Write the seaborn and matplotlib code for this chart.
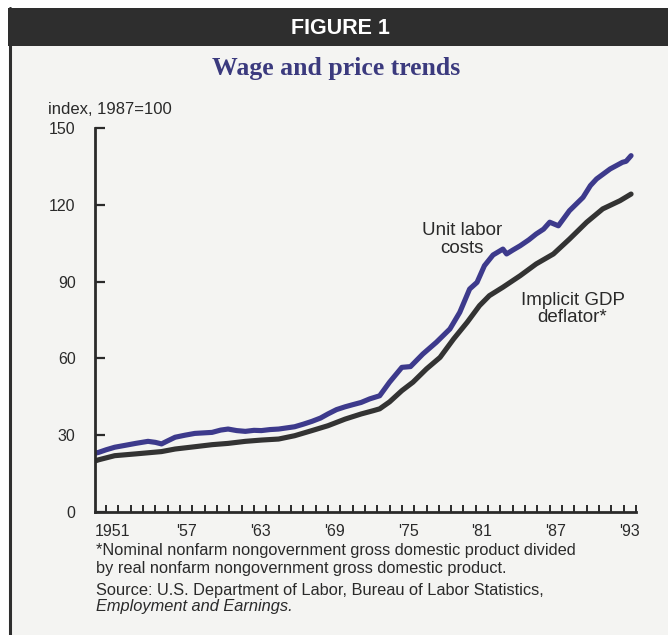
import matplotlib
matplotlib.use("Agg")
import matplotlib.pyplot as plt
from matplotlib.patches import Rectangle
from matplotlib.lines import Line2D
import seaborn as sns
import pandas as pd
import numpy as np

# ---- data ----
ulc_years = [1950.15, 1950.4, 1951.0, 1951.7, 1952.5, 1953.4, 1954.4, 1955.0, 1955.5, 1956.0,
             1956.6, 1957.4, 1958.2, 1959.6, 1960.3, 1960.9, 1961.6, 1962.3, 1963.0, 1963.6,
             1964.3, 1965.0, 1966.3, 1967.0, 1967.7, 1968.4, 1969.0, 1969.7, 1970.4, 1971.0,
             1971.7, 1972.4, 1973.2, 1974.0, 1975.0, 1975.7, 1976.7, 1977.8, 1978.9, 1979.7,
             1980.5, 1981.1, 1981.7, 1982.4, 1983.2, 1983.5, 1984.0, 1984.6, 1985.3, 1985.9,
             1986.5, 1987.0, 1987.7, 1988.6, 1989.7, 1990.3, 1990.8, 1991.9, 1992.9, 1993.2,
             1993.6]
unit_labor_costs = [23.0, 23.3, 24.3, 25.3, 26.0, 26.8, 27.6, 27.2, 26.6, 27.8,
                    29.2, 30.0, 30.7, 31.1, 32.0, 32.4, 31.8, 31.5, 31.9, 31.8,
                    32.2, 32.4, 33.3, 34.3, 35.4, 36.7, 38.3, 40.0, 41.1, 41.9,
                    42.8, 44.2, 45.4, 50.7, 56.5, 56.8, 61.7, 66.3, 71.5, 78.0,
                    87.1, 89.7, 96.2, 100.4, 102.7, 100.8, 102.3, 104.0, 106.3, 108.6,
                    110.5, 113.2, 111.8, 117.7, 122.9, 127.5, 130.1, 134.0, 136.6, 137.0,
                    139.2]
gdp_years = [1950.15, 1950.4, 1951.7, 1953.4, 1955.5, 1956.6, 1958.2, 1959.6, 1960.9, 1962.3,
             1963.6, 1965.0, 1966.3, 1967.7, 1969.0, 1970.4, 1971.7, 1972.7, 1973.2, 1974.0,
             1975.0, 1975.9, 1977.0, 1978.1, 1979.2, 1980.3, 1981.3, 1982.1, 1983.2, 1984.6,
             1985.9, 1987.3, 1988.6, 1990.0, 1991.3, 1992.7, 1993.6]
gdp_deflator = [20.0, 20.4, 22.0, 22.7, 23.6, 24.6, 25.5, 26.3, 26.8, 27.6,
                28.1, 28.5, 29.8, 31.8, 33.7, 36.3, 38.3, 39.6, 40.3, 43.0,
                47.4, 50.7, 55.9, 60.4, 67.6, 74.1, 80.6, 84.5, 87.8, 92.3,
                96.9, 100.8, 106.6, 113.2, 118.4, 121.6, 124.2]
series_names = ["Unit labor costs", "Implicit GDP deflator"]
x_tick_years = [1951, 1957, 1963, 1969, 1975, 1981, 1987, 1993]
x_tick_labels = ["1951", "'57", "'63", "'69", "'75", "'81", "'87", "'93"]
y_ticks = [0, 30, 60, 90, 120, 150]

df = pd.concat([
    pd.DataFrame({"year": ulc_years, "value": unit_labor_costs, "series": series_names[0]}),
    pd.DataFrame({"year": gdp_years, "value": gdp_deflator, "series": series_names[1]}),
])

sns.set_theme(style="white")
plt.rcParams["font.family"] = ["Liberation Sans", "DejaVu Sans"]

W, H = 668, 635
fig = plt.figure(figsize=(W / 100, H / 100), dpi=100)
fig.patch.set_facecolor("white")

def fx(px):
    return px / W

def fy(py):
    return 1 - py / H

# panel background, header bar, left border
fig.patches.append(Rectangle((fx(9), 0), fx(W - 9), fy(46), transform=fig.transFigure,
                             facecolor="#f4f4f2", edgecolor="none", zorder=-2))
fig.patches.append(Rectangle((fx(8), fy(46)), fx(W - 8), 38 / H, transform=fig.transFigure,
                             facecolor="#2e2e2e", edgecolor="none", zorder=-1))
fig.lines.append(Line2D([fx(9.5), fx(9.5)], [0, fy(8)], transform=fig.transFigure,
                        color="#2e2e2e", linewidth=2.2, zorder=-1))

fig.text(fx(340), fy(29), "FIGURE 1", color="white", fontsize=15.5, fontweight="bold",
         ha="center", va="center")
fig.text(fx(336), fy(68), "Wage and price trends", color="#3b3a7e", fontsize=18.5,
         fontweight="bold", family=["Liberation Serif", "DejaVu Serif"],
         ha="center", va="center")

ax = fig.add_axes([fx(95), fy(512), fx(541), (512 - 128) / H])
ax.set_facecolor("none")
ax.set_zorder(5)

palette = {series_names[0]: "#3d3a8c", series_names[1]: "#333333"}
sns.lineplot(data=df, x="year", y="value", hue="series", palette=palette,
             linewidth=3.7, ax=ax, legend=False, sort=False, estimator=None)

ax.set_xlim(1950.1, 1994.0)
ax.set_ylim(0, 150)
ax.set_xlabel("")
ax.set_ylabel("")

for s in ["top", "right"]:
    ax.spines[s].set_visible(False)
for s in ["left", "bottom"]:
    ax.spines[s].set_color("#2a2a2a")
    ax.spines[s].set_linewidth(2.0)

ax.set_yticks(y_ticks)
ax.set_yticklabels([str(v) for v in y_ticks])
ax.tick_params(axis="y", direction="in", length=7, width=1.6, color="#2a2a2a",
               pad=14, labelsize=11.5, labelcolor="#2a2a2a", left=True)

ax.set_xticks([y + 0.5 for y in x_tick_years])
ax.set_xticklabels(x_tick_labels)
ax.set_xticks(np.arange(1951, 1995), minor=True)
ax.tick_params(axis="x", which="major", length=0, pad=9, labelsize=11.5,
               labelcolor="#2a2a2a", bottom=True)
ax.tick_params(axis="x", which="minor", direction="in", length=5, width=1.4,
               color="#2a2a2a", bottom=True)

fig.text(fx(48), fy(110), "index, 1987=100", fontsize=12, color="#2a2a2a",
         ha="left", va="center")

ax.text(1979.9, 106.4, "Unit labor\ncosts", fontsize=13.5, color="#2a2a2a",
        ha="center", va="center", linespacing=1.05)
ax.text(1988.85, 79.3, "Implicit GDP\ndeflator*", fontsize=13.5, color="#2a2a2a",
        ha="center", va="center", linespacing=1.05)

fn = 11.8
fig.text(fx(96), fy(551), "*Nominal nonfarm nongovernment gross domestic product divided",
         fontsize=fn, color="#2a2a2a", ha="left", va="center")
fig.text(fx(96), fy(568), "by real nonfarm nongovernment gross domestic product.",
         fontsize=fn, color="#2a2a2a", ha="left", va="center")
fig.text(fx(96), fy(590), "Source: U.S. Department of Labor, Bureau of Labor Statistics,",
         fontsize=fn, color="#2a2a2a", ha="left", va="center")
fig.text(fx(96), fy(607), "Employment and Earnings.", fontsize=fn, color="#2a2a2a",
         ha="left", va="center", style="italic")

fig.savefig("out.png", dpi=100, facecolor=fig.get_facecolor())
